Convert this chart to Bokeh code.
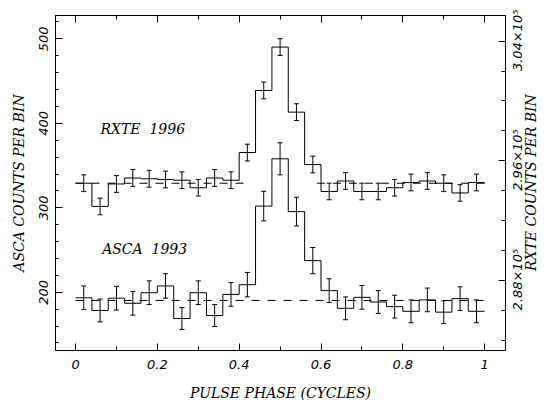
import math
from bokeh.plotting import figure
from bokeh.models import Range1d, LinearAxis, SingleIntervalTicker, FixedTicker
from bokeh.core.properties import value
from bokeh.embed import file_html
from bokeh.resources import INLINE

# ---- data ----
n_bins = 25
bin_width = 0.04
phase_edges = [round(i * bin_width, 2) for i in range(n_bins + 1)]
phase_centers = [round((i + 0.5) * bin_width, 2) for i in range(n_bins)]

asca_counts = [193.5, 178.5, 193, 187, 199.5, 207.5, 169, 199.5, 172.5, 197.5,
               209, 302, 358, 295.5, 237.5, 202, 181, 194, 188.5, 183,
               177.5, 191, 176.5, 192.5, 177.5]
asca_err = [14, 13.5, 14, 14, 14, 14.5, 13, 14, 13, 14,
            14.5, 17.5, 19, 17, 15.5, 14, 13.5, 14, 13.5, 13.5,
            13.5, 14, 13.5, 14, 13.5]
asca_mean = 190.3

rxte_counts = [294500, 292950, 294450, 294850, 294800, 294750, 294700, 294200, 294850, 294700,
               296550, 300700, 303600, 299250, 295750, 293950, 294650, 293950, 293950, 294200,
               294550, 294650, 294500, 293850, 294550]
rxte_err = [560, 555, 560, 560, 560, 560, 560, 555, 560, 560,
            560, 560, 560, 560, 560, 555, 560, 555, 555, 555,
            560, 560, 560, 555, 560]
rxte_mean = 294500
rxte_mean_x0 = [0.0, 0.59]
rxte_mean_x1 = [0.42, 1.0]

x_ticks_major = 0.2
asca_tick_interval = 100
rxte_major_ticks = [288000, 296000, 304000]
rxte_minor_ticks = list(range(284000, 306001, 2000))
rxte_tick_texts = ["2.88\u00d710\u2075", "2.96\u00d710\u2075", "3.04\u00d710\u2075"]
rxte_title = "RXTE COUNTS PER BIN"

x_lo, x_hi = -0.049, 1.051
a_lo_lim, a_hi_lim = 131.1, 527.6
r_lo_lim, r_hi_lim = 283320, 305710

FRAME_H = 335
r_per_px = (r_hi_lim - r_lo_lim) / FRAME_H
# Bokeh starts upward-reading right-side labels at their anchor, so anchors are
# moved down by half of each label's length to centre the text.
tick_label_half_px = 30
title_half_px = 88

# ---- figure ----
p = figure(frame_width=450, frame_height=FRAME_H,
           x_range=Range1d(x_lo, x_hi), y_range=Range1d(a_lo_lim, a_hi_lim),
           output_backend="svg", toolbar_location=None,
           min_border_left=55, min_border_right=39, min_border_top=15, min_border_bottom=56,
           background_fill_color="white", border_fill_color="white")
p.extra_y_ranges = {"rxte": Range1d(r_lo_lim, r_hi_lim)}
p.grid.visible = False
p.outline_line_color = "black"
p.outline_line_width = 1


def style_axis(ax):
    ax.axis_line_color = "black"
    ax.major_tick_line_color = "black"
    ax.minor_tick_line_color = "black"
    ax.major_tick_in = 7
    ax.major_tick_out = 0
    ax.minor_tick_in = 4
    ax.minor_tick_out = 0
    ax.major_label_text_font = "DejaVu Sans"
    ax.major_label_text_font_style = "italic"
    ax.major_label_text_font_size = "13px"
    ax.major_label_text_color = "black"
    ax.axis_label_text_font = "DejaVu Serif"
    ax.axis_label_text_font_style = "italic"
    ax.axis_label_text_font_size = "14px"
    ax.axis_label_text_color = "black"


def label_only_axis(ticks, texts, font, style, size, standoff):
    ax = LinearAxis(y_range_name="rxte", ticker=FixedTicker(ticks=ticks, minor_ticks=[]))
    ax.axis_line_color = None
    ax.major_tick_line_color = None
    ax.minor_tick_line_color = None
    ax.major_tick_in = 0
    ax.major_tick_out = 0
    ax.major_label_overrides = dict(zip(ticks, texts))
    ax.major_label_orientation = math.pi / 2
    ax.major_label_text_font = font
    ax.major_label_text_font_style = style
    ax.major_label_text_font_size = size
    ax.major_label_text_color = "black"
    ax.major_label_standoff = standoff
    return ax


# bottom axis
xa = p.xaxis[0]
xa.ticker = SingleIntervalTicker(interval=x_ticks_major, num_minor_ticks=2)
style_axis(xa)
xa.axis_label = "PULSE PHASE (CYCLES)"
xa.major_label_standoff = 9
xa.axis_label_standoff = 13

# top axis (ticks only)
top = LinearAxis(ticker=SingleIntervalTicker(interval=x_ticks_major, num_minor_ticks=2))
style_axis(top)
top.major_label_text_font_size = "1px"
top.major_label_text_color = None
top.major_label_standoff = 0
p.add_layout(top, "above")

# left axis
ya = p.yaxis[0]
ya.ticker = SingleIntervalTicker(interval=asca_tick_interval, num_minor_ticks=5)
style_axis(ya)
ya.minor_tick_in = 3
ya.axis_label = "ASCA COUNTS PER BIN"
ya.major_label_orientation = "vertical"
ya.major_label_standoff = 7
ya.axis_label_standoff = 10

# right axis: ticks of the RXTE scale
ra = LinearAxis(y_range_name="rxte",
                ticker=FixedTicker(ticks=rxte_major_ticks, minor_ticks=rxte_minor_ticks))
style_axis(ra)
ra.major_label_text_font_size = "1px"
ra.major_label_text_color = None
ra.major_label_standoff = 0
p.add_layout(ra, "right")

# right tick labels, reading upward and centred on the ticks
label_anchors = [t - tick_label_half_px * r_per_px for t in rxte_major_ticks]
p.add_layout(label_only_axis(label_anchors, rxte_tick_texts, "DejaVu Sans", "italic", "13px", 12), "right")

# right title, reading upward and centred on the frame
title_anchor = (r_lo_lim + r_hi_lim) / 2 - title_half_px * r_per_px
p.add_layout(label_only_axis([title_anchor], [rxte_title], "DejaVu Serif", "italic", "14px", -5), "right")

# ---- ASCA ----
p.line([0, 1], [asca_mean, asca_mean], line_color="black", line_width=1, line_dash="8 8")
p.step(phase_edges, asca_counts + [asca_counts[-1]], mode="after", line_color="black", line_width=1)
a_lo = [c - e for c, e in zip(asca_counts, asca_err)]
a_hi = [c + e for c, e in zip(asca_counts, asca_err)]
p.segment(x0=phase_centers, y0=a_lo, x1=phase_centers, y1=a_hi, line_color="black", line_width=1)
p.scatter(phase_centers, a_lo, marker="dash", size=5, line_color="black", line_width=1)
p.scatter(phase_centers, a_hi, marker="dash", size=5, line_color="black", line_width=1)

# ---- RXTE ----
p.segment(x0=rxte_mean_x0, y0=[rxte_mean] * 2, x1=rxte_mean_x1, y1=[rxte_mean] * 2,
          y_range_name="rxte", line_color="black", line_width=1, line_dash="8 8")
p.step(phase_edges, rxte_counts + [rxte_counts[-1]], mode="after", y_range_name="rxte",
       line_color="black", line_width=1)
r_lo = [c - e for c, e in zip(rxte_counts, rxte_err)]
r_hi = [c + e for c, e in zip(rxte_counts, rxte_err)]
p.segment(x0=phase_centers, y0=r_lo, x1=phase_centers, y1=r_hi, y_range_name="rxte",
          line_color="black", line_width=1)
p.scatter(phase_centers, r_lo, marker="dash", size=5, y_range_name="rxte", line_color="black", line_width=1)
p.scatter(phase_centers, r_hi, marker="dash", size=5, y_range_name="rxte", line_color="black", line_width=1)

# ---- labels ----
title_font = value("DejaVu Serif")
p.text(x=[0.061], y=[393.8], text=["RXTE\u00a0\u00a01996"], text_font=title_font, text_font_style="italic",
       text_font_size="14px", text_baseline="middle", text_align="left", text_color="black")
p.text(x=[0.065], y=[251.8], text=["ASCA\u00a0\u00a01993"], text_font=title_font, text_font_style="italic",
       text_font_size="14px", text_baseline="middle", text_align="left", text_color="black")

open("out.html", "w").write(file_html(p, INLINE))
